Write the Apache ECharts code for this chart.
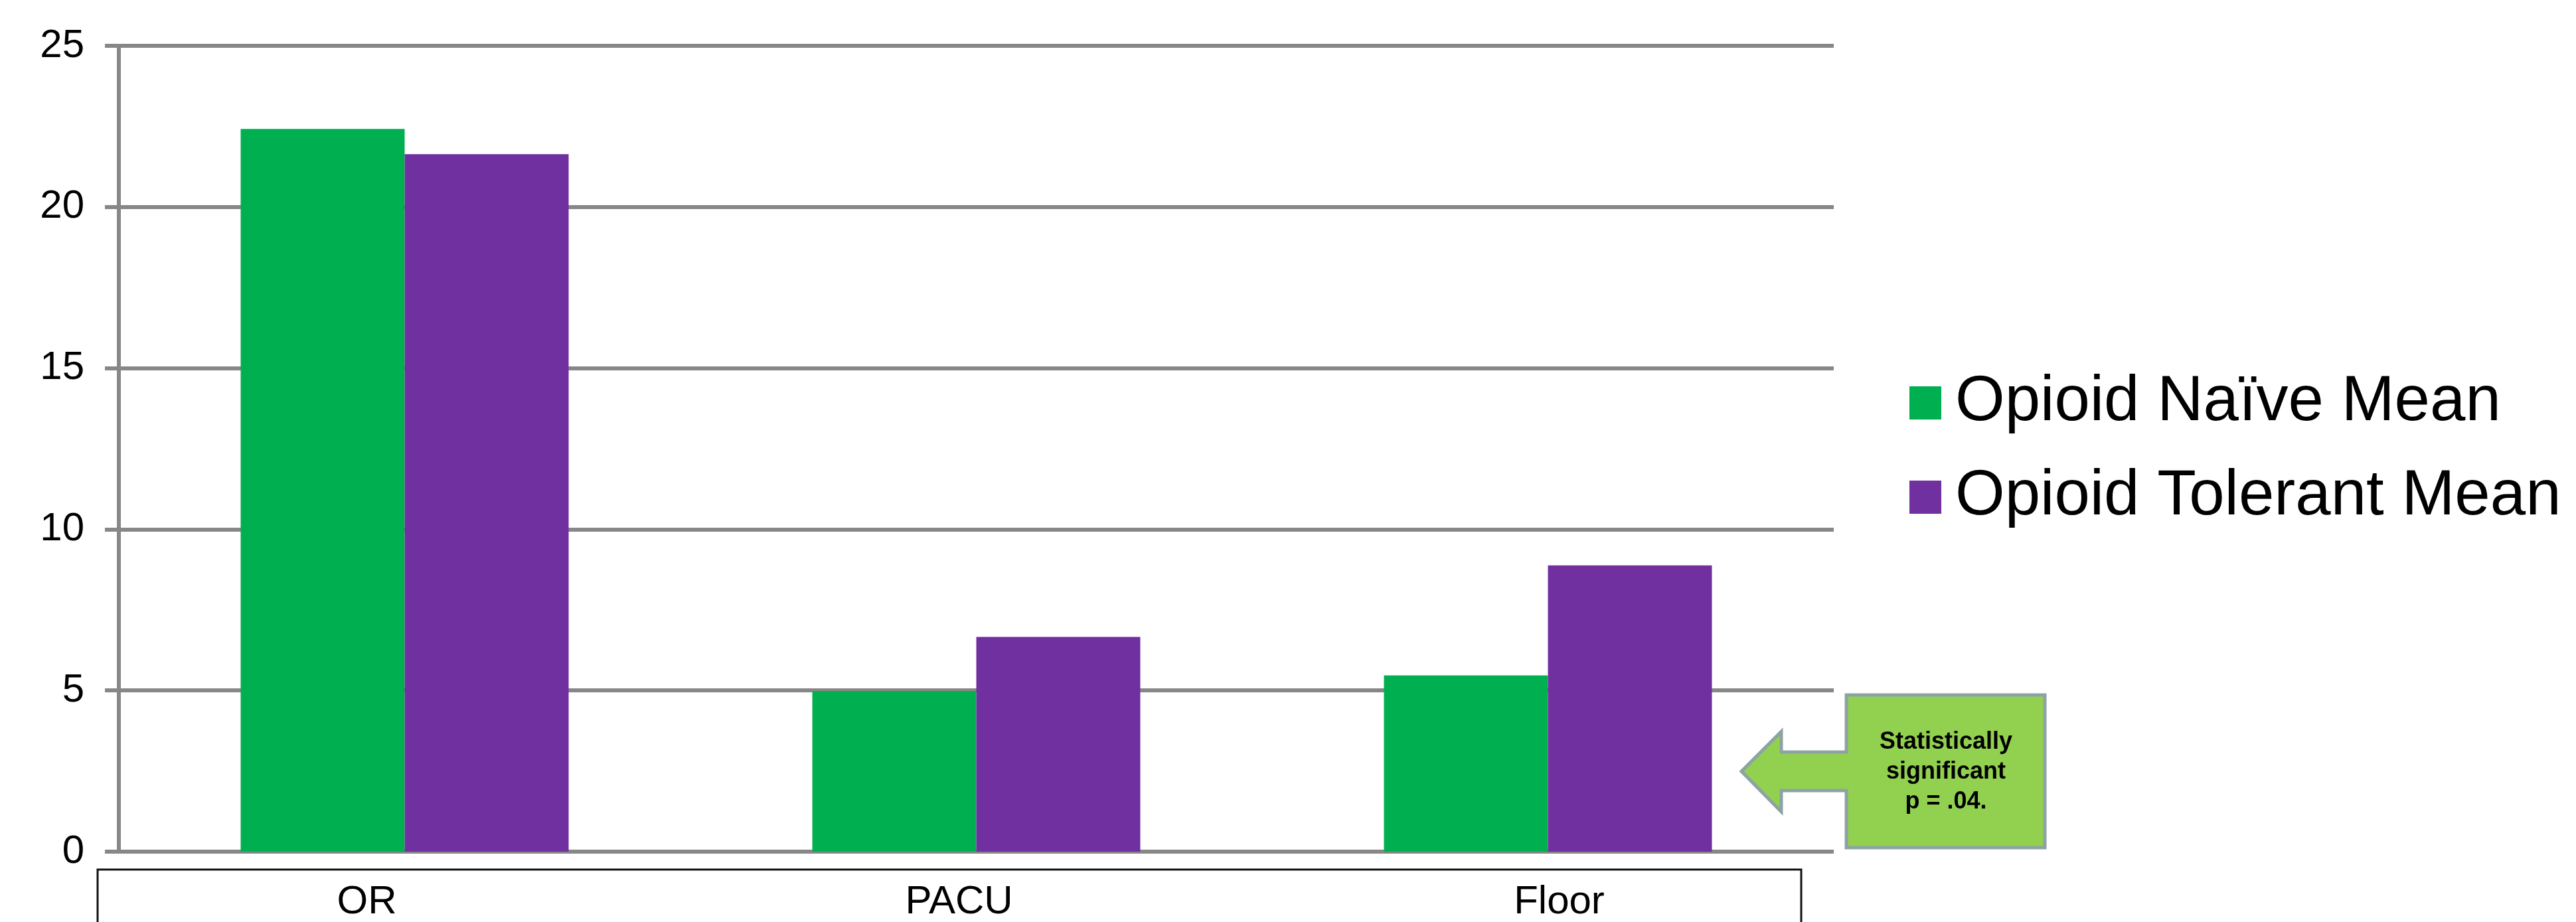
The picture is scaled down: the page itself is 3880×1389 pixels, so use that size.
<!DOCTYPE html>
<html>
<head>
<meta charset="utf-8">
<script src="https://cdn.jsdelivr.net/npm/echarts@6/dist/echarts.min.js"></script>
<style>
  html, body { margin: 0; padding: 0; background: #fff; }
  #chart { width: 3880px; height: 1389px; }
</style>
</head>
<body>
<div id="chart"></div>
<script>
const categories = ["OR", "PACU", "Floor"];
const naiveMean = [22.42, 4.98, 5.47];
const tolerantMean = [21.64, 6.66, 8.88];
const seriesNames = ["Opioid Naïve Mean", "Opioid Tolerant Mean"];
const calloutLines = ["Statistically", "significant", "p = .04."];

const gray = "#878787";
const font = "'Liberation Sans', Arial, sans-serif";

const chart = echarts.init(document.getElementById("chart"));

// labels in the reference sit a bit off the bar centres (data table style)
const labelRich = {
  c0: { fontSize: 60, fontFamily: font, color: "#000", padding: [0, 114, 0, 0] },
  c1: { fontSize: 60, fontFamily: font, color: "#000", padding: [0, 52, 0, 0] },
  c2: { fontSize: 60, fontFamily: font, color: "#000", padding: [0, 0, 0, 34] },
};

const option = {
  backgroundColor: "#fff",
  animation: false,
  grid: { left: 179, right: 1118, top: 69, bottom: 103 },
  legend: {
    data: seriesNames,
    orient: "vertical",
    left: 2871,
    top: 554,
    itemWidth: 48,
    itemHeight: 50,
    itemGap: 46,
    icon: "rect",
    textStyle: {
      fontSize: 96,
      fontFamily: font,
      color: "#000",
      lineHeight: 50,
      padding: [0, 0, 0, 16],
    },
  },
  xAxis: {
    type: "category",
    data: categories,
    axisLine: { show: false },
    axisTick: { show: false },
    axisLabel: {
      margin: 46,
      formatter: (v, i) => `{c${i}|${v}}`,
      rich: labelRich,
    },
  },
  yAxis: {
    type: "value",
    min: 0,
    max: 25,
    interval: 5,
    axisLine: { show: true, lineStyle: { color: gray, width: 6 } },
    axisTick: { show: true, length: 21, lineStyle: { color: gray, width: 6 } },
    splitLine: { show: true, lineStyle: { color: gray, width: 6 } },
    axisLabel: { fontSize: 60, fontFamily: font, color: "#000", margin: 52 },
  },
  series: [
    {
      name: seriesNames[0],
      type: "bar",
      data: naiveMean,
      barWidth: 247,
      barGap: "0%",
      itemStyle: { color: "#00B050" },
    },
    {
      name: seriesNames[1],
      type: "bar",
      data: tolerantMean,
      barWidth: 247,
      barGap: "0%",
      itemStyle: { color: "#7030A0" },
    },
  ],
  graphic: [
    {
      // data table frame under the plot
      type: "rect",
      shape: { x: 147, y: 1310, width: 2566, height: 200 },
      style: { fill: "none", stroke: "#111", lineWidth: 3 },
    },
    {
      // callout box with left arrow
      type: "polygon",
      shape: {
        points: [
          [2781, 1047], [3080, 1047], [3080, 1277], [2781, 1277],
          [2781, 1191], [2683, 1191], [2683, 1223], [2623, 1162],
          [2683, 1102], [2683, 1133], [2781, 1133],
        ],
      },
      style: { fill: "#92D050", stroke: "#8DA3A3", lineWidth: 5 },
    },
    {
      type: "text",
      x: 2931,
      y: 1163,
      style: {
        text: calloutLines.join("\n"),
        fontSize: 36,
        fontWeight: "bold",
        fontFamily: font,
        fill: "#000",
        lineHeight: 45,
        align: "center",
        verticalAlign: "middle",
      },
    },
  ],
};

chart.setOption(option);
</script>
</body>
</html>
